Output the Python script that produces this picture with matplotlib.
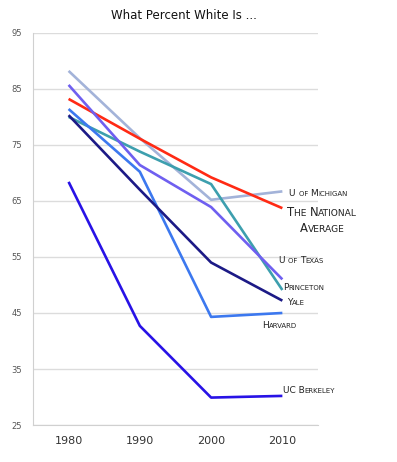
import matplotlib
matplotlib.use("Agg")
import matplotlib.pyplot as plt
from matplotlib.offsetbox import TextArea, HPacker, AnnotationBbox

years = [1980, 1990, 2000, 2010]
michigan = [88.2, 76.2, 65.2, 66.7]
national = [83.2, 76.1, 69.2, 63.7]
texas = [85.7, 71.4, 63.9, 51.0]
princeton = [80.0, 73.8, 68.0, 49.1]
yale = [80.3, 67.0, 54.0, 47.2]
harvard = [81.4, 70.2, 44.3, 45.0]
berkeley = [68.4, 42.7, 29.9, 30.2]
yticks = [25, 35, 45, 55, 65, 75, 85, 95]

series = [
    (michigan, "#a3b3d9"),
    (national, "#ff2a14"),
    (princeton, "#3d9fae"),
    (texas, "#6f5ff0"),
    (harvard, "#3c78ef"),
    (yale, "#1c1a86"),
    (berkeley, "#2812e6"),
]

fig = plt.figure(figsize=(3.97, 4.62), dpi=100)
ax = fig.add_axes([0.083, 0.080, 0.718, 0.849])
for vals, c in series:
    ax.plot(years, vals, color=c, lw=1.9, solid_capstyle="butt", zorder=3)

ax.set_xlim(1975, 2015)
ax.set_ylim(25, 95)
ax.set_yticks(yticks)
ax.set_xticks(years)
ax.grid(axis="y", color="#dcdcdc", lw=1.0)
ax.set_axisbelow(True)
for s in ["top", "right"]:
    ax.spines[s].set_visible(False)
ax.spines["left"].set_color("#d0d0d0")
ax.spines["bottom"].set_color("#d0d0d0")
ax.tick_params(length=0)
ax.tick_params(axis="y", labelsize=6, labelcolor="#555555", pad=8)
ax.tick_params(axis="x", labelsize=8, labelcolor="#333333", pad=8)

fig.text(0.463, 0.967, "What Percent White Is ...", ha="center", va="center",
         fontsize=8.5, color="#111111")


def smallcaps(text, big, small, color="#222222"):
    runs = []
    cur = ""
    cur_big = None
    for ch in text:
        isbig = not ch.islower()
        if ch == " ":
            isbig = cur_big if cur_big is not None else True
        if cur_big is None or isbig == cur_big:
            cur += ch
            cur_big = isbig
        else:
            runs.append((cur, cur_big))
            cur = ch
            cur_big = isbig
    runs.append((cur, cur_big))
    areas = [TextArea(r.upper(), textprops=dict(fontsize=big if b else small,
                                                 color=color))
             for r, b in runs]
    return HPacker(children=areas, align="baseline", pad=0, sep=0)


def label(text, x, y, big, small, align=(0, 0.5)):
    box = smallcaps(text, big, small)
    ab = AnnotationBbox(box, (x, y), xycoords="data", frameon=False,
                        box_alignment=align, annotation_clip=False, pad=0)
    ax.add_artist(ab)


label("U of Michigan", 2011.0, 66.4, 6.5, 5.0)
label("The National", 2015.6, 63.0, 8.4, 6.6, align=(0.5, 0.5))
label("Average", 2015.6, 60.0, 8.4, 6.6, align=(0.5, 0.5))
label("U of Texas", 2009.5, 54.3, 6.5, 5.0)
label("Princeton", 2010.1, 49.5, 6.5, 5.0)
label("Yale", 2010.6, 46.8, 6.5, 5.0)
label("Harvard", 2007.1, 42.7, 6.5, 5.0)
label("UC Berkeley", 2010.1, 31.25, 6.5, 5.0)

fig.savefig("out.png", dpi=100)
